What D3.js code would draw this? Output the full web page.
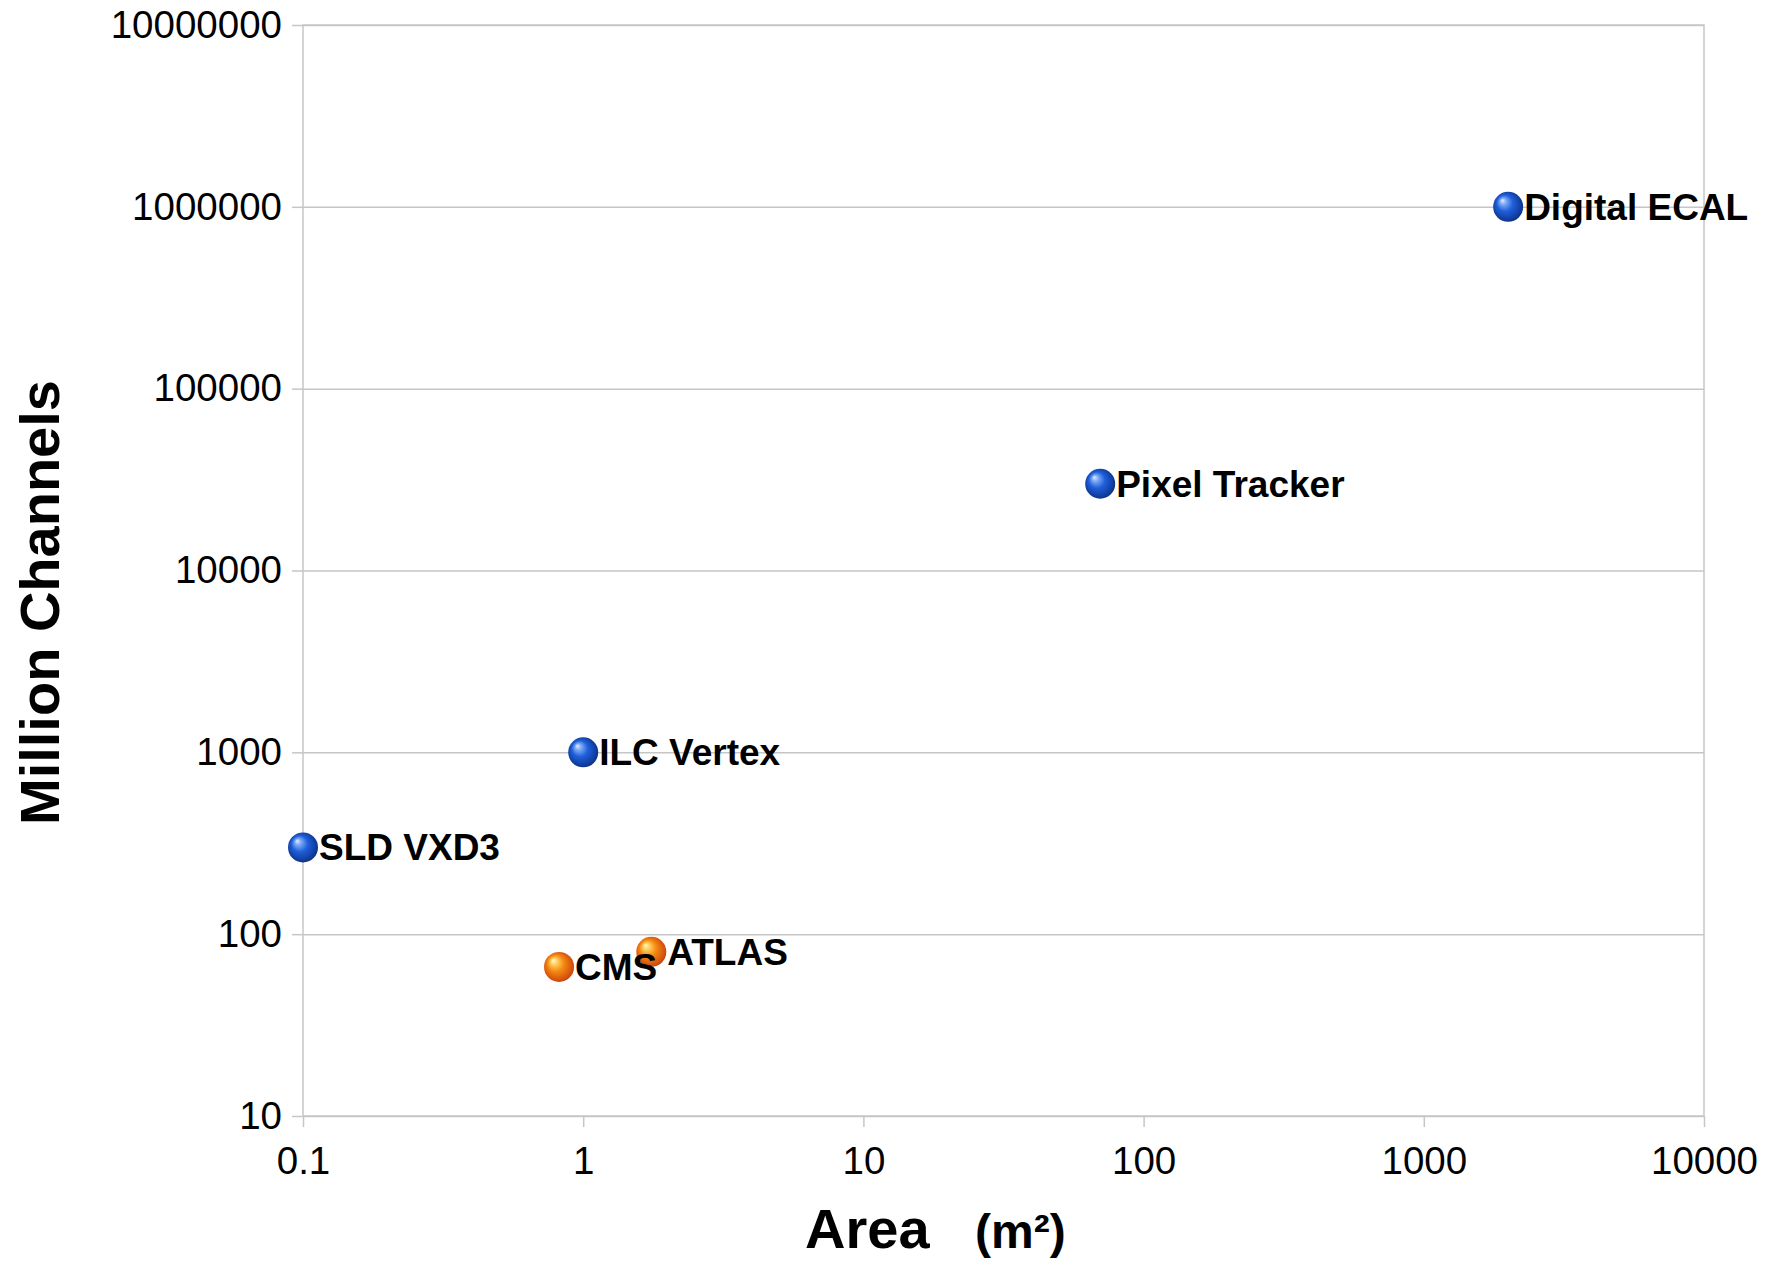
<!DOCTYPE html>
<html>
<head>
<meta charset="utf-8">
<script src="https://cdn.jsdelivr.net/npm/d3@7/dist/d3.min.js"></script>
<style>
  html, body { margin: 0; padding: 0; background: #ffffff; }
  svg { display: block; font-family: "Liberation Sans", Arial, sans-serif; }
</style>
</head>
<body>
<svg id="chart" width="1772" height="1263"></svg>
<script>
// Detectors: sensitive area (m²) vs. readout channels (millions)
const names    = ["SLD VXD3", "ILC Vertex", "CMS", "ATLAS", "Pixel Tracker", "Digital ECAL"];
const area     = [0.1, 1, 0.82, 1.75, 70, 2000];
const channels = [300, 1000, 66, 80, 30000, 1000000];
const family   = ["pixel", "pixel", "lhc", "lhc", "pixel", "pixel"];

const xTicks = [0.1, 1, 10, 100, 1000, 10000];
const yTicks = [10, 100, 1000, 10000, 100000, 1000000, 10000000];
const xTickLabels = ["0.1", "1", "10", "100", "1000", "10000"];
const yTickLabels = ["10", "100", "1000", "10000", "100000", "1000000", "10000000"];

const W = 1772, H = 1263;
const plot = { left: 303, right: 1704, top: 25, bottom: 1116 };

const svg = d3.select("#chart");

const x = d3.scaleLog().domain([0.1, 10000]).range([plot.left, plot.right]);
const y = d3.scaleLog().domain([10, 10000000]).range([plot.bottom, plot.top]);

// Glossy sphere fills
const defs = svg.append("defs");
function sphere(id, stops) {
  const g = defs.append("radialGradient").attr("id", id)
    .attr("cx", "0.5").attr("cy", "0.5").attr("r", "0.6")
    .attr("fx", "0.3").attr("fy", "0.28");
  stops.forEach(([o, c]) => g.append("stop").attr("offset", o).attr("stop-color", c));
}
sphere("ball-pixel", [[0, "#e4eeff"], [0.18, "#7aa8f4"], [0.45, "#1f5fdc"], [0.8, "#103c9c"], [1, "#0a2466"]]);
sphere("ball-lhc",   [[0, "#fffbd0"], [0.18, "#ffd060"], [0.45, "#f58a12"], [0.8, "#d4520e"], [1, "#a83208"]]);

const gridColor = "#c6c6c6";

// Horizontal gridlines
svg.append("g")
  .attr("transform", `translate(${plot.left},0)`)
  .call(d3.axisLeft(y).tickValues(yTicks)
    .tickSize(-(plot.right - plot.left))
    .tickFormat(() => ""))
  .call(g => g.select(".domain").remove())
  .call(g => g.selectAll(".tick line").attr("stroke", gridColor).attr("stroke-width", 1.5));

// Y axis ticks and labels
svg.append("g")
  .attr("transform", `translate(${plot.left},0)`)
  .call(d3.axisLeft(y).tickValues(yTicks).tickSize(11).tickPadding(10)
    .tickFormat((d, i) => yTickLabels[i]))
  .call(g => g.select(".domain").remove())
  .call(g => g.selectAll(".tick line").attr("stroke", gridColor).attr("stroke-width", 1.5))
  .call(g => g.selectAll(".tick text")
    .attr("fill", "#000").attr("font-size", 38.5)
    .attr("font-family", "'Liberation Sans', Arial, sans-serif"));

// X axis ticks and labels
svg.append("g")
  .attr("transform", `translate(0,${plot.bottom})`)
  .call(d3.axisBottom(x).tickValues(xTicks).tickSize(11).tickPadding(20)
    .tickFormat((d, i) => xTickLabels[i]))
  .call(g => g.select(".domain").remove())
  .call(g => g.selectAll(".tick line").attr("stroke", gridColor).attr("stroke-width", 1.5))
  .call(g => g.selectAll(".tick text")
    .attr("fill", "#000").attr("font-size", 38.5)
    .attr("font-family", "'Liberation Sans', Arial, sans-serif"));

// Plot frame
svg.append("rect")
  .attr("x", plot.left).attr("y", plot.top)
  .attr("width", plot.right - plot.left).attr("height", plot.bottom - plot.top)
  .attr("fill", "none").attr("stroke", gridColor).attr("stroke-width", 1.5);

// Points
const pts = names.map((n, i) => ({ name: n, a: area[i], c: channels[i], f: family[i] }));

svg.append("g").selectAll("circle").data(pts).join("circle")
  .attr("cx", d => x(d.a)).attr("cy", d => y(d.c))
  .attr("r", 15)
  .attr("fill", d => `url(#ball-${d.f})`);

svg.append("g").selectAll("text").data(pts).join("text")
  .attr("x", d => x(d.a) + 16).attr("y", d => y(d.c) + 13)
  .attr("font-size", 37).attr("font-weight", "bold").attr("fill", "#000")
  .text(d => d.name);

// Axis titles
svg.append("text")
  .attr("transform", `translate(59,${(382 + 823) / 2}) rotate(-90)`)
  .attr("text-anchor", "middle")
  .attr("font-size", 56).attr("font-weight", "bold").attr("fill", "#000")
  .text("Million Channels");

const xt = svg.append("text")
  .attr("x", 805).attr("y", 1248)
  .attr("font-size", 56).attr("font-weight", "bold").attr("fill", "#000");
xt.append("tspan").text("Area");
xt.append("tspan").attr("x", 975).attr("font-size", 48).text("(m²)");
</script>
</body>
</html>
